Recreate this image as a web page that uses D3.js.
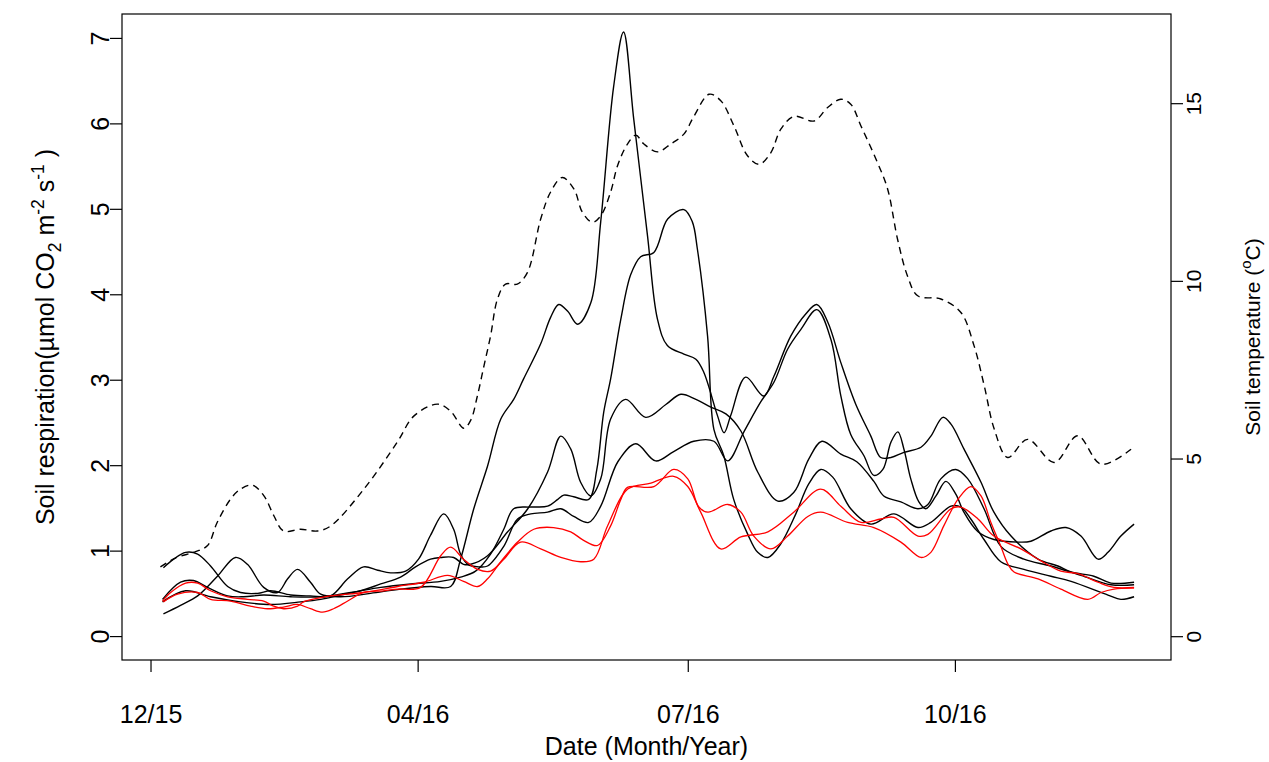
<!DOCTYPE html>
<html>
<head>
<meta charset="utf-8">
<script src="https://cdn.jsdelivr.net/npm/d3@7"></script>
<style>
body { margin: 0; background: #fff; }
text { font-family: "Liberation Sans", Arial, sans-serif; fill: #000; }
</style>
</head>
<body>
<svg width="1269" height="762"></svg>
<script>
// x values are days counted from the 12/15 tick
const xTickDays = [0, 89, 179, 268];
const xTickLabels = ['12/15', '04/16', '07/16', '10/16'];
const respTicks = [0, 1, 2, 3, 4, 5, 6, 7];
const tempTicks = [0, 5, 10, 15];

// soil respiration, black sites  [day, umol CO2 m-2 s-1]
const resp1 = [[4.3,0.26],[10,0.36],[15.7,0.47],[22.3,0.70],[28.3,0.92],[32.3,0.84],[37.7,0.57],[42.3,0.51],[45.7,0.67],[49,0.78],[53.3,0.63],[56.7,0.49],[63.3,0.46],[73.3,0.50],[83.3,0.55],[93.3,0.58],[100,0.58],[103.3,0.90],[107.7,1.49],[112.3,1.99],[116.7,2.54],[121,2.77],[124.3,3.01],[130,3.42],[133.3,3.73],[136,3.88],[139,3.80],[142.3,3.65],[146.7,3.90],[150,4.85],[154.3,6.43],[157.6,7.07],[161,6.05],[165.6,4.68],[168.9,3.71],[172.2,3.40],[177.7,3.30],[181.7,3.24],[184.3,3.09],[188.9,2.58],[191.1,2.38],[193.3,2.58],[198.3,3.03],[204.3,2.81],[207.7,3.04],[213.3,3.51],[218.3,3.77],[222,3.88],[225.7,3.67],[230,3.20],[235,2.71],[240,2.34],[243.3,2.09],[246.7,2.09],[251,2.15],[256.7,2.21],[260,2.34],[264,2.56],[266.7,2.48],[271,2.19],[276.7,1.80],[281,1.45],[286.7,1.17],[295.7,0.90],[302.3,0.82],[306.7,0.75],[314.3,0.70],[320,0.62],[327.7,0.63]];
const resp2 = [[4,0.43],[10,0.63],[14.3,0.65],[19,0.57],[25.7,0.47],[31,0.46],[37.7,0.48],[46.7,0.46],[56.7,0.46],[66.7,0.51],[76.7,0.57],[86.7,0.61],[96.7,0.64],[103.3,0.69],[108.3,0.76],[113.3,0.96],[117.7,1.25],[121,1.49],[126.7,1.51],[132.3,1.52],[135.7,1.60],[137.7,1.65],[141,1.63],[146,1.60],[148.7,1.95],[151,2.62],[153.3,3.01],[156.7,3.71],[160,4.23],[163.3,4.44],[167.7,4.49],[172.3,4.88],[177.7,4.99],[180.5,4.85],[182.2,4.53],[185.6,3.51],[187.7,2.42],[191,2.11],[194.3,1.60],[199,1.19],[202.3,0.98],[205.7,0.92],[210,1.08],[215,1.43],[219.3,1.78],[223.3,1.95],[227.3,1.86],[233.3,1.49],[240,1.31],[247.7,1.43],[255.7,1.27],[260,1.33],[266.7,1.52],[270,1.51],[273.3,1.37],[277.7,1.13],[283.3,0.87],[291,0.78],[300,0.70],[306.7,0.64],[319,0.48],[323.3,0.43],[327.7,0.46]];
const resp3 = [[4,0.40],[11.7,0.53],[20,0.46],[30,0.40],[40,0.37],[50,0.40],[56.7,0.43],[63.3,0.48],[70,0.53],[76.7,0.61],[83.3,0.69],[88.3,0.81],[93.3,0.90],[96.7,0.92],[101,0.92],[104.3,0.84],[106.7,0.84],[112.3,0.94],[119,1.22],[125.7,1.49],[132.3,1.92],[136.7,2.34],[140,2.19],[143.3,1.80],[146.7,1.64],[150,1.84],[153.3,2.54],[158.3,2.77],[165,2.56],[171.7,2.71],[176.7,2.83],[181.7,2.77],[186.7,2.68],[191.7,2.60],[196.7,2.40],[202.3,1.92],[209,1.58],[214.3,1.68],[219.3,2.07],[223.7,2.28],[230,2.13],[235.3,2.04],[241,1.81],[244.3,1.64],[250,1.57],[255.7,1.49],[259,1.54],[263.3,1.84],[268.3,1.95],[272.3,1.84],[277.7,1.49],[283.3,1.05],[291,0.90],[300,0.82],[310,0.71],[320,0.60],[327.7,0.60]];
const resp4 = [[4.3,0.80],[7.7,0.90],[11.7,0.98],[15.7,0.96],[20,0.82],[25.7,0.58],[30,0.51],[35.7,0.50],[40,0.53],[46.7,0.48],[53.3,0.47],[60,0.47],[65.7,0.67],[71,0.81],[75.7,0.77],[80,0.74],[85,0.76],[89.3,0.90],[93.3,1.18],[97.7,1.43],[101,1.25],[103.3,0.96],[105.7,0.84],[109.3,0.81],[112.3,0.82],[117.7,1.05],[122.3,1.37],[126.7,1.43],[132.3,1.45],[136.7,1.49],[141,1.40],[146,1.33],[150,1.52],[155.7,2.04],[161.7,2.25],[168.3,2.05],[174.3,2.16],[181,2.28],[187.7,2.28],[192.3,2.05],[197.7,2.39],[203.3,2.74],[207.7,2.97],[212.3,3.36],[216.7,3.59],[222,3.82],[226.7,3.47],[230,2.81],[233.3,2.36],[237.7,2.11],[241,1.88],[244,1.95],[246.7,2.27],[249,2.39],[251,2.19],[253.3,1.84],[256,1.57],[258.3,1.49],[261.7,1.64],[265,1.81],[268.3,1.66],[271,1.45],[275.7,1.22],[281,1.13],[289,1.10],[293.3,1.11],[300,1.23],[305,1.27],[310,1.17],[315.7,0.90],[319,0.98],[323.3,1.17],[327.7,1.31]];

// soil respiration, red sites
const respRed1 = [[4,0.41],[6.7,0.51],[11.7,0.62],[15.7,0.62],[20,0.53],[25.7,0.46],[32.3,0.43],[37.7,0.41],[41,0.35],[44.3,0.32],[49,0.35],[51,0.40],[60,0.47],[71,0.51],[82.3,0.58],[91,0.63],[99,0.71],[104.3,0.64],[109,0.58],[112.3,0.67],[116.7,0.87],[122.3,1.10],[127.7,1.25],[134.3,1.27],[140,1.22],[144.3,1.12],[148.9,1.06],[153.3,1.29],[156.7,1.60],[158.9,1.74],[167.7,1.75],[174.3,1.95],[179,1.84],[182.7,1.51],[185.7,1.45],[192.3,1.54],[196.7,1.45],[201,1.17],[206.7,1.02],[212.3,1.17],[219,1.40],[223.3,1.45],[232.3,1.33],[241,1.27],[250,1.10],[256.7,0.92],[260,0.98],[264.3,1.29],[269,1.60],[273.3,1.75],[276.7,1.64],[280,1.33],[283.3,1.05],[285.7,0.84],[287.7,0.75],[295.7,0.67],[303.3,0.55],[312.3,0.43],[316.7,0.51],[321,0.55],[327.7,0.56]];
const respRed2 = [[4.3,0.40],[9,0.49],[15.7,0.51],[20,0.43],[26.7,0.41],[33.3,0.35],[39,0.32],[44.3,0.34],[49,0.37],[53.3,0.32],[57.3,0.28],[61,0.32],[65.7,0.41],[71,0.51],[77.7,0.53],[82.3,0.55],[90,0.57],[96.7,0.94],[100,1.04],[104.3,0.90],[109,0.78],[113.3,0.76],[117.7,0.90],[123.3,1.10],[130,1.02],[136.7,0.92],[143.3,0.87],[147.7,0.90],[152.3,1.29],[159,1.72],[166.7,1.79],[174.3,1.87],[179,1.75],[183.3,1.45],[190,1.02],[196.7,1.16],[205.7,1.22],[214.3,1.45],[223.3,1.72],[230,1.52],[236.7,1.33],[243.3,1.37],[247.7,1.39],[255.7,1.17],[259,1.19],[266.7,1.49],[270,1.51],[275.7,1.37],[281,1.17],[290,1.02],[296.7,0.88],[303.3,0.76],[309,0.73],[315.7,0.63],[321,0.57],[327.7,0.57]];

// soil temperature [day, degC] on the right axis
const soilTemp = [[3.3,1.95],[8.3,2.20],[15,2.38],[19,2.55],[22.2,3.20],[26.7,3.86],[30,4.14],[33.9,4.25],[37.8,3.95],[41.1,3.39],[44.3,2.96],[50,3.01],[55.6,2.96],[60,3.10],[71.1,4.14],[82.2,5.46],[87.8,6.20],[95.6,6.53],[100,6.33],[104.4,5.85],[106.7,6.08],[108.9,6.76],[111.1,7.61],[113.3,8.45],[115.6,9.49],[118.3,9.91],[122.2,9.91],[125.6,10.24],[130,11.74],[133.3,12.50],[137.2,12.91],[141.1,12.58],[143.9,11.93],[147.2,11.65],[150,11.83],[153.3,12.50],[155.6,13.24],[158.9,13.85],[161.7,14.10],[164.4,13.85],[168.9,13.63],[173.3,13.85],[177.7,14.13],[181.1,14.64],[186.1,15.25],[190,15.07],[194.4,14.36],[198.9,13.52],[202.8,13.28],[206.7,13.61],[210,14.27],[214.4,14.63],[221.1,14.50],[225.6,14.88],[230,15.11],[233.3,14.97],[236.7,14.36],[242.2,13.33],[245.6,12.58],[248.9,11.17],[252.2,10.14],[255.6,9.58],[263.3,9.49],[270,9.11],[274.4,8.17],[277.8,7.04],[281.1,5.83],[285.6,5.03],[292.2,5.54],[301.1,4.89],[308.9,5.64],[316.7,4.84],[326.7,5.26]];

const svg = d3.select('svg');
const box = {left: 122, right: 1171, top: 14, bottom: 660};
const fsBig = 25;   // bottom/left axis text
const fsSmall = 21; // right axis text

const x = d3.scaleLinear().domain([-9.5, 340]).range([box.left, box.right]);
const y = d3.scaleLinear().domain([-0.28, 7.28]).range([box.bottom, box.top]);
const y2 = d3.scaleLinear().domain([-0.67, 17.51]).range([box.bottom, box.top]);

const lineL = d3.line().x(d => x(d[0])).y(d => y(d[1])).curve(d3.curveCatmullRom.alpha(0.5));
const lineR = d3.line().x(d => x(d[0])).y(d => y2(d[1])).curve(d3.curveCatmullRom.alpha(0.5));

[resp1, resp2, resp3, resp4].forEach(s => {
  svg.append('path').attr('d', lineL(s))
    .attr('fill', 'none').attr('stroke', '#000').attr('stroke-width', 1.4);
});
[respRed1, respRed2].forEach(s => {
  svg.append('path').attr('d', lineL(s))
    .attr('fill', 'none').attr('stroke', '#ff0000').attr('stroke-width', 1.3);
});
svg.append('path').attr('d', lineR(soilTemp))
  .attr('fill', 'none').attr('stroke', '#000').attr('stroke-width', 1.4)
  .attr('stroke-dasharray', '7,5');

// plot box
svg.append('rect')
  .attr('x', box.left).attr('y', box.top)
  .attr('width', box.right - box.left).attr('height', box.bottom - box.top)
  .attr('fill', 'none').attr('stroke', '#000').attr('stroke-width', 1.2);

// axes
const styleAxis = size => g => {
  g.select('.domain').remove();
  g.selectAll('line').attr('stroke', '#000').attr('stroke-width', 1.2);
  g.selectAll('text').attr('font-size', size).attr('font-family', null);
};

const xAxis = svg.append('g').attr('transform', `translate(0,${box.bottom})`)
  .call(d3.axisBottom(x).tickValues(xTickDays).tickFormat((d, i) => xTickLabels[i]).tickSize(12))
  .call(styleAxis(fsBig));
xAxis.selectAll('text').attr('y', 63).attr('dy', null);

const yAxis = svg.append('g').attr('transform', `translate(${box.left},0)`)
  .call(d3.axisLeft(y).tickValues(respTicks).tickFormat(d3.format('d')).tickSize(12))
  .call(styleAxis(fsBig));
yAxis.selectAll('text').attr('x', null).attr('dy', null)
  .attr('text-anchor', 'middle').attr('transform', 'translate(-13,0) rotate(-90)');

const y2Axis = svg.append('g').attr('transform', `translate(${box.right},0)`)
  .call(d3.axisRight(y2).tickValues(tempTicks).tickFormat(d3.format('d')).tickSize(12))
  .call(styleAxis(fsSmall));
y2Axis.selectAll('text').attr('x', null).attr('dy', null)
  .attr('text-anchor', 'middle').attr('transform', 'translate(30,0) rotate(-90)');

// titles
svg.append('text')
  .attr('x', (box.left + box.right) / 2).attr('y', 755)
  .attr('text-anchor', 'middle').attr('font-size', fsBig)
  .text('Date (Month/Year)');

const yTitle = svg.append('text')
  .attr('transform', `translate(54,${(box.top + box.bottom) / 2}) rotate(-90)`)
  .attr('text-anchor', 'middle').attr('font-size', fsBig);
yTitle.append('tspan').text('Soil respiration(\u00b5mol CO');
yTitle.append('tspan').attr('dy', 7).attr('font-size', 17.5).text('2');
yTitle.append('tspan').attr('dy', -7).text(' m');
yTitle.append('tspan').attr('dy', -10).attr('font-size', 17.5).text('-2');
yTitle.append('tspan').attr('dy', 10).text(' s');
yTitle.append('tspan').attr('dy', -10).attr('font-size', 17.5).text('-1');
yTitle.append('tspan').attr('dy', 10).text(' )');

const y2Title = svg.append('text')
  .attr('transform', `translate(1260,${(box.top + box.bottom) / 2}) rotate(-90)`)
  .attr('text-anchor', 'middle').attr('font-size', fsSmall);
y2Title.append('tspan').text('Soil temperature (');
y2Title.append('tspan').attr('dy', -9).attr('font-size', 15).text('o');
y2Title.append('tspan').attr('dy', 9).text('C)');
</script>
</body>
</html>
